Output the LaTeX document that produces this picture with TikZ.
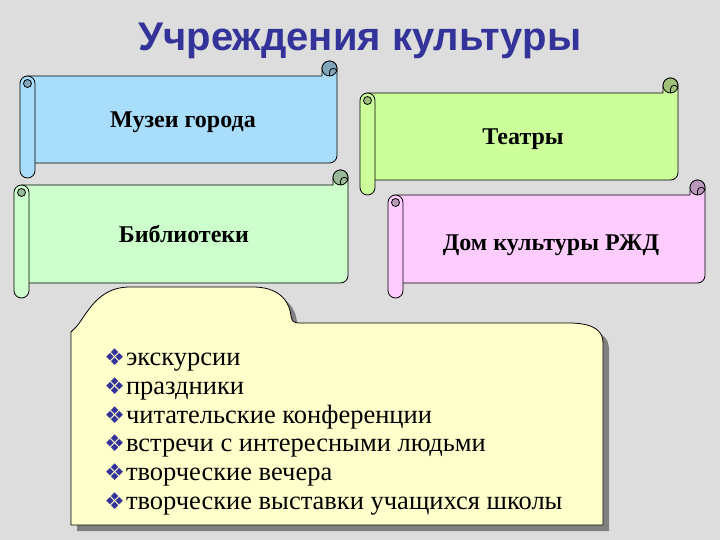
\documentclass[tikz,border=0pt]{standalone}
\usepackage{fontspec}
\setmainfont{Liberation Serif}
\newfontfamily\titlefont{Liberation Sans}
\newfontfamily\bulletfont{DejaVu Sans}
\usepackage{xcolor}
\usepackage{tikz}

\definecolor{bggray}{RGB}{221,221,221}
\definecolor{titleblue}{RGB}{51,51,153}
\definecolor{bulletblue}{RGB}{51,51,153}
\definecolor{museumblue}{RGB}{168,221,251}
\definecolor{museumcurl}{RGB}{128,166,188}
\definecolor{theatregreen}{RGB}{204,255,153}
\definecolor{theatrecurl}{RGB}{158,192,120}
\definecolor{librarygreen}{RGB}{204,255,204}
\definecolor{librarycurl}{RGB}{152,186,152}
\definecolor{rzhdpink}{RGB}{255,204,255}
\definecolor{rzhdcurl}{RGB}{186,152,186}
\definecolor{folderyellow}{RGB}{255,255,204}
\definecolor{shadowgray}{RGB}{128,128,128}

% horizontal scroll: left, top, right, bottom, fill, curl
\newcommand{\kscroll}[6]{%
  \filldraw[fill=#5] (#1+7.5,#2+15) -- (#3-15,#2+15) -- (#3-15,#2+7.5) arc (180:360:7.5)
    -- (#3,#4-22.5) arc (0:90:7.5) -- (#1+7.5,#4-15) -- cycle;
  \filldraw[fill=#6] (#3-7.5,#2+7.5) circle (7.5);
  \draw (#3-7.5,#2+15) -- (#3-7.5,#2+11) arc (180:360:3.75);
  \filldraw[fill=#5] (#1,#2+22.5) arc (180:360:7.5) -- (#1+15,#4-7.5) arc (0:180:7.5) -- cycle;
  \filldraw[fill=#6] (#1+7.5,#2+22.5) circle (4);
}

% folder outline
\newcommand{\folderpath}{(71,525) -- (71,332) -- (77,326) .. controls (88,312) and (98,288) .. (128,287)
  -- (255,287) .. controls (283,288) and (290,305) .. (291,316) .. controls (292,322) and (294,323) .. (300,323)
  -- (572,323) .. controls (596,324) and (603,332) .. (603,343) -- (603,525) -- cycle}

\newcommand{\kbullet}{{\bulletfont\fontsize{23}{23}\selectfont\textcolor{bulletblue}{❖}}\hspace{1pt}}

\tikzset{
  scrolltext/.style={anchor=base, inner sep=0pt, font=\bfseries\fontsize{24}{28}\selectfont},
  itemtext/.style={anchor=base west, inner sep=0pt, font=\fontsize{26.5}{29}\selectfont}
}

\begin{document}
\begin{tikzpicture}[x=1pt, y=-1pt, line width=0.8pt]
        % Background
        \fill[bggray] (0,0) rectangle (720,540);
        \useasboundingbox (0,0) rectangle (720,540);

        % Title
        \node (title) [anchor=base, inner sep=0pt, text=titleblue, font=\titlefont\bfseries\fontsize{40}{46}\selectfont] at (360,51) {Учреждения культуры};

        % Scrolls
        \kscroll{20}{61}{337}{178}{museumblue}{museumcurl}
        \kscroll{360}{78}{678}{195}{theatregreen}{theatrecurl}
        \kscroll{14}{170}{348}{298}{librarygreen}{librarycurl}
        \kscroll{388}{180}{705}{298}{rzhdpink}{rzhdcurl}

        \node (museums) [scrolltext] at (183,128) {Музеи города};
        \node (theatres) [scrolltext] at (523,145) {Театры};
        \node (libraries) [scrolltext] at (184,243) {Библиотеки};
        \node (rzhd) [scrolltext] at (551,251) {Дом культуры РЖД};

        % Folder with events
        \begin{scope}[shift={(6,6)}]
          \fill[shadowgray] \folderpath;
        \end{scope}
        \filldraw[fill=folderyellow] \folderpath;

        \node (excursions) [itemtext] at (104,365) {\kbullet экскурсии};
        \node (holidays) [itemtext] at (104,394) {\kbullet праздники};
        \node (readers) [itemtext] at (104,423) {\kbullet читательские конференции};
        \node (meetings) [itemtext] at (104,451) {\kbullet встречи с интересными людьми};
        \node (evenings) [itemtext] at (104,480) {\kbullet творческие вечера};
        \node (exhibitions) [itemtext] at (104,509) {\kbullet творческие выставки учащихся школы};
    \end{tikzpicture}
\end{document}
